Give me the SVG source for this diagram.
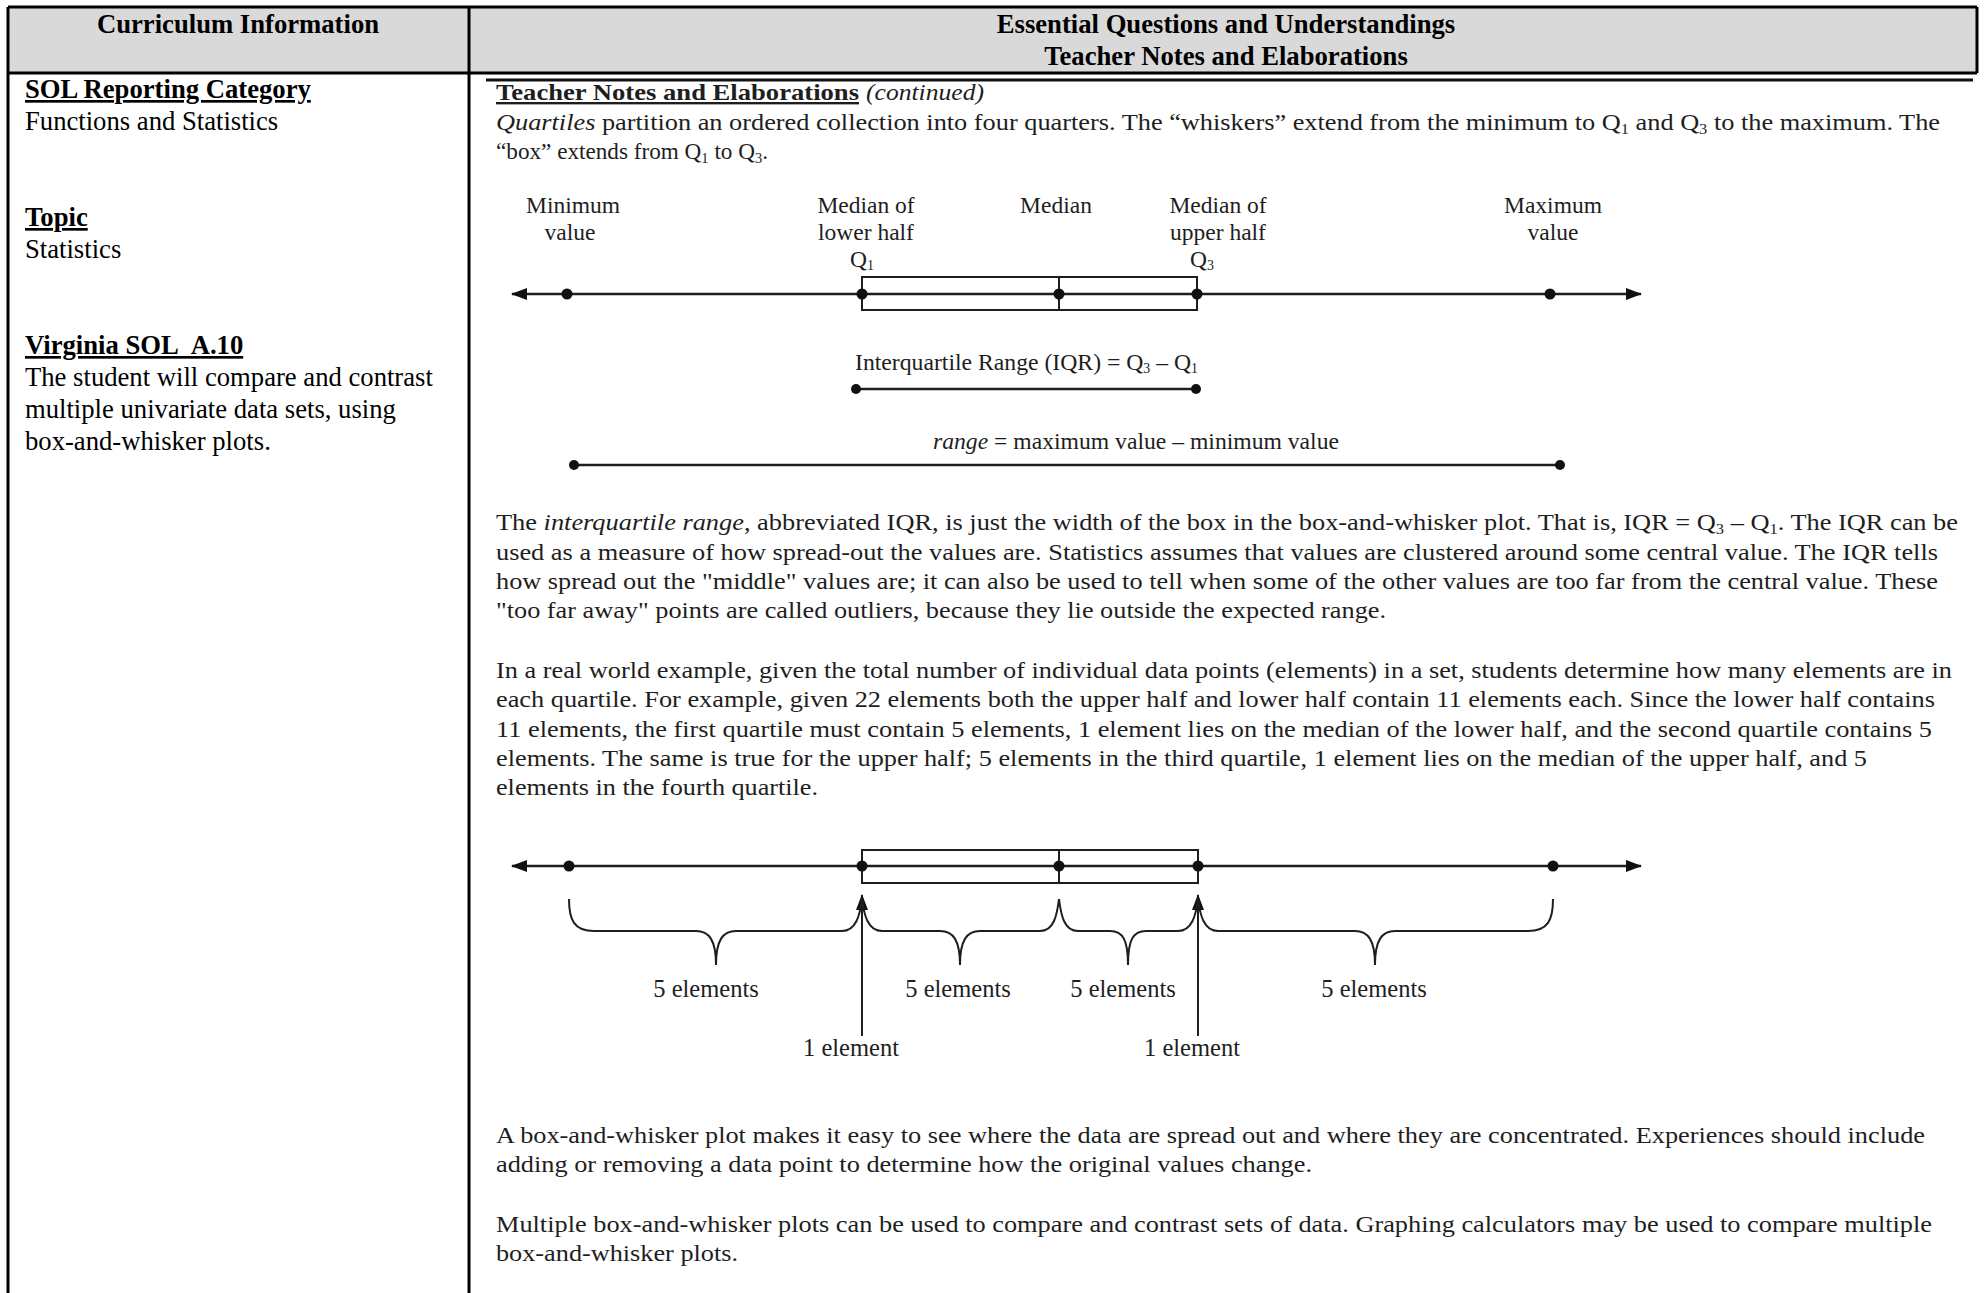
<svg xmlns="http://www.w3.org/2000/svg" width="1986" height="1293" viewBox="0 0 1986 1293">
<style>
.hd{font-family:"Liberation Serif",serif;font-weight:bold;font-size:26.67px;fill:#000}
.lc{font-family:"Liberation Serif",serif;font-size:26.67px;fill:#000}
.lcb{font-family:"Liberation Serif",serif;font-size:26.67px;font-weight:bold;text-decoration:underline;fill:#000}
.p{font-family:"Liberation Serif",serif;font-size:24px;fill:#1e1e1e}
.lb{font-family:"Liberation Serif",serif;font-size:23.5px;fill:#1e1e1e;text-anchor:middle}
.el{font-family:"Liberation Serif",serif;font-size:24.5px;fill:#1e1e1e;text-anchor:middle}
.ln{stroke:#1e1e1e;stroke-width:2.5;fill:none}
.bx{stroke:#1e1e1e;stroke-width:2;fill:none}
.br{stroke:#1e1e1e;stroke-width:2;fill:none}
.dot{fill:#111}
.it{font-style:italic}
</style>
<defs>
<marker id="ah" viewBox="0 0 16 12" refX="15" refY="6" markerWidth="16" markerHeight="12" markerUnits="userSpaceOnUse" orient="auto-start-reverse">
<path d="M0,0 L16,6 L0,12 z" fill="#111"/>
</marker>
<marker id="up" viewBox="0 0 12 16" refX="6" refY="1" markerWidth="12" markerHeight="16" markerUnits="userSpaceOnUse" orient="0">
<path d="M6,0 L12,16 L0,16 z" fill="#111"/>
</marker>
</defs>
<rect width="1986" height="1293" fill="#fff"/>
<g id="table">
<rect x="8" y="7" width="1969" height="66" fill="#d9d9d9"/>
<path d="M8,7 H1977 M8,73 H1977 M1977,7 V73" stroke="#000" stroke-width="3" fill="none"/>
<path d="M8,7 V1293 M469,7 V1293" stroke="#000" stroke-width="3" fill="none"/>
<path d="M486,80 H1973" stroke="#111" stroke-width="3"/>
</g>
<g id="header">
<text class="hd" x="238" y="33" text-anchor="middle">Curriculum Information</text>
<text class="hd" x="1226" y="33" text-anchor="middle">Essential Questions and Understandings</text>
<text class="hd" x="1226" y="65" text-anchor="middle">Teacher Notes and Elaborations</text>
</g>
<g id="left-col">
<text class="lcb" x="25" y="98">SOL Reporting Category</text>
<text class="lc" x="25" y="130">Functions and Statistics</text>
<text class="lcb" x="25" y="226">Topic</text>
<text class="lc" x="25" y="258">Statistics</text>
<text class="lcb" x="25" y="354">Virginia SOL&#160; A.10</text>
<text class="lc" x="25" y="386">The student will compare and contrast</text>
<text class="lc" x="25" y="418">multiple univariate data sets, using</text>
<text class="lc" x="25" y="450">box-and-whisker plots.</text>
</g>
<g id="notes-top">
<text class="p" x="496" y="100" font-weight="bold" text-decoration="underline" textLength="363" lengthAdjust="spacingAndGlyphs">Teacher Notes and Elaborations</text>
<text class="p it" x="866" y="100" textLength="118" lengthAdjust="spacingAndGlyphs">(continued)</text>
<text class="p" x="496" y="130" textLength="1444" lengthAdjust="spacingAndGlyphs"><tspan class="it">Quartiles</tspan> partition an ordered collection into four quarters. The “whiskers” extend from the minimum to Q<tspan font-size="15" dy="4">1</tspan><tspan dy="-4"> and Q</tspan><tspan font-size="15" dy="4">3</tspan><tspan dy="-4"> to the maximum. The</tspan></text>
<text class="p" x="496" y="159" textLength="272" lengthAdjust="spacingAndGlyphs">“box” extends from Q<tspan font-size="15" dy="4">1</tspan><tspan dy="-4"> to Q</tspan><tspan font-size="15" dy="4">3</tspan><tspan dy="-4">.</tspan></text>
</g>
<g id="diagram1">
<g id="d1-labels">
<text class="lb" x="573" y="213">Minimum</text>
<text class="lb" x="570" y="240">value</text>
<text class="lb" x="866" y="213">Median of</text>
<text class="lb" x="866" y="240">lower half</text>
<text class="lb" x="862" y="267">Q<tspan font-size="14" dy="3">1</tspan></text>
<text class="lb" x="1056" y="213">Median</text>
<text class="lb" x="1218" y="213">Median of</text>
<text class="lb" x="1218" y="240">upper half</text>
<text class="lb" x="1202" y="267">Q<tspan font-size="14" dy="3">3</tspan></text>
<text class="lb" x="1553" y="213">Maximum</text>
<text class="lb" x="1553" y="240">value</text>
</g>
<g id="d1-plot">
<line class="ln" x1="512" y1="294" x2="1641" y2="294" marker-start="url(#ah)" marker-end="url(#ah)"/>
<rect class="bx" x="862" y="277" width="335" height="33"/>
<line class="bx" x1="1059" y1="277" x2="1059" y2="310"/>
<circle class="dot" cx="567" cy="294" r="5.5"/>
<circle class="dot" cx="862" cy="294" r="5.5"/>
<circle class="dot" cx="1059" cy="294" r="5.5"/>
<circle class="dot" cx="1197" cy="294" r="5.5"/>
<circle class="dot" cx="1550" cy="294" r="5.5"/>
</g>
<g id="d1-iqr">
<text class="p" x="855" y="370" font-size="23.5" textLength="343" lengthAdjust="spacingAndGlyphs">Interquartile Range (IQR) = Q<tspan font-size="14" dy="3">3</tspan><tspan dy="-3"> – Q</tspan><tspan font-size="14" dy="3">1</tspan></text>
<line class="ln" x1="856" y1="389" x2="1196" y2="389"/>
<circle class="dot" cx="856" cy="389" r="5"/>
<circle class="dot" cx="1196" cy="389" r="5"/>
</g>
<g id="d1-range">
<text class="p" x="933" y="449" font-size="23.5" textLength="406" lengthAdjust="spacingAndGlyphs"><tspan class="it">range</tspan> = maximum value – minimum value</text>
<line class="ln" x1="574" y1="465" x2="1560" y2="465"/>
<circle class="dot" cx="574" cy="465" r="5"/>
<circle class="dot" cx="1560" cy="465" r="5"/>
</g>
</g>
<g id="notes-middle">
<text class="p" x="496" y="530" textLength="1462" lengthAdjust="spacingAndGlyphs">The <tspan class="it">interquartile range</tspan>, abbreviated IQR, is just the width of the box in the box-and-whisker plot. That is, IQR = Q<tspan font-size="15" dy="4">3</tspan><tspan dy="-4"> – Q</tspan><tspan font-size="15" dy="4">1</tspan><tspan dy="-4">. The IQR can be</tspan></text>
<text class="p" x="496" y="560" textLength="1442" lengthAdjust="spacingAndGlyphs">used as a measure of how spread-out the values are. Statistics assumes that values are clustered around some central value. The IQR tells</text>
<text class="p" x="496" y="589" textLength="1442" lengthAdjust="spacingAndGlyphs">how spread out the "middle" values are; it can also be used to tell when some of the other values are too far from the central value. These</text>
<text class="p" x="496" y="618" textLength="890" lengthAdjust="spacingAndGlyphs">"too far away" points are called outliers, because they lie outside the expected range.</text>
<text class="p" x="496" y="678" textLength="1456" lengthAdjust="spacingAndGlyphs">In a real world example, given the total number of individual data points (elements) in a set, students determine how many elements are in</text>
<text class="p" x="496" y="707" textLength="1439" lengthAdjust="spacingAndGlyphs">each quartile. For example, given 22 elements both the upper half and lower half contain 11 elements each. Since the lower half contains</text>
<text class="p" x="496" y="737" textLength="1436" lengthAdjust="spacingAndGlyphs">11 elements, the first quartile must contain 5 elements, 1 element lies on the median of the lower half, and the second quartile contains 5</text>
<text class="p" x="496" y="766" textLength="1371" lengthAdjust="spacingAndGlyphs">elements. The same is true for the upper half; 5 elements in the third quartile, 1 element lies on the median of the upper half, and 5</text>
<text class="p" x="496" y="795" textLength="322" lengthAdjust="spacingAndGlyphs">elements in the fourth quartile.</text>
</g>
<g id="diagram2">
<g id="d2-plot">
<line class="ln" x1="512" y1="866" x2="1641" y2="866" marker-start="url(#ah)" marker-end="url(#ah)"/>
<rect class="bx" x="862" y="850" width="336" height="33"/>
<line class="bx" x1="1059" y1="850" x2="1059" y2="883"/>
<circle class="dot" cx="569" cy="866" r="5.5"/>
<circle class="dot" cx="862" cy="866" r="5.5"/>
<circle class="dot" cx="1059" cy="866" r="5.5"/>
<circle class="dot" cx="1198" cy="866" r="5.5"/>
<circle class="dot" cx="1553" cy="866" r="5.5"/>
</g>
<g id="connectors">
<line class="br" x1="862" y1="1036" x2="862" y2="895" marker-end="url(#up)"/>
<line class="br" x1="1198" y1="1036" x2="1198" y2="895" marker-end="url(#up)"/>
<path class="br" d="M569,899 C569,920 574,931 594,931 L696,931 C709,931 716,940 716,965 C716,940 723,931 736,931 L842,931 C856,931 860,915 862,899"/>
<path class="br" d="M862,899 C864,915 868,931 882,931 L940,931 C953,931 960,940 960,965 C960,940 967,931 980,931 L1040,931 C1054,931 1057,915 1059,899"/>
<path class="br" d="M1059,899 C1061,915 1064,931 1078,931 L1110,931 C1123,931 1128,940 1128,965 C1128,940 1133,931 1146,931 L1178,931 C1192,931 1196,915 1198,899"/>
<path class="br" d="M1198,899 C1200,915 1204,931 1218,931 L1355,931 C1368,931 1375,940 1375,965 C1375,940 1382,931 1395,931 L1528,931 C1548,931 1553,920 1553,899"/>
</g>
<g id="d2-labels">
<text class="el" x="706" y="997">5 elements</text>
<text class="el" x="958" y="997">5 elements</text>
<text class="el" x="1123" y="997">5 elements</text>
<text class="el" x="1374" y="997">5 elements</text>
<text class="el" x="851" y="1056">1 element</text>
<text class="el" x="1192" y="1056">1 element</text>
</g>
</g>
<g id="notes-bottom">
<text class="p" x="496" y="1143" textLength="1429" lengthAdjust="spacingAndGlyphs">A box-and-whisker plot makes it easy to see where the data are spread out and where they are concentrated. Experiences should include</text>
<text class="p" x="496" y="1172" textLength="816" lengthAdjust="spacingAndGlyphs">adding or removing a data point to determine how the original values change.</text>
<text class="p" x="496" y="1232" textLength="1436" lengthAdjust="spacingAndGlyphs">Multiple box-and-whisker plots can be used to compare and contrast sets of data. Graphing calculators may be used to compare multiple</text>
<text class="p" x="496" y="1261" textLength="242" lengthAdjust="spacingAndGlyphs">box-and-whisker plots.</text>
</g>
</svg>
